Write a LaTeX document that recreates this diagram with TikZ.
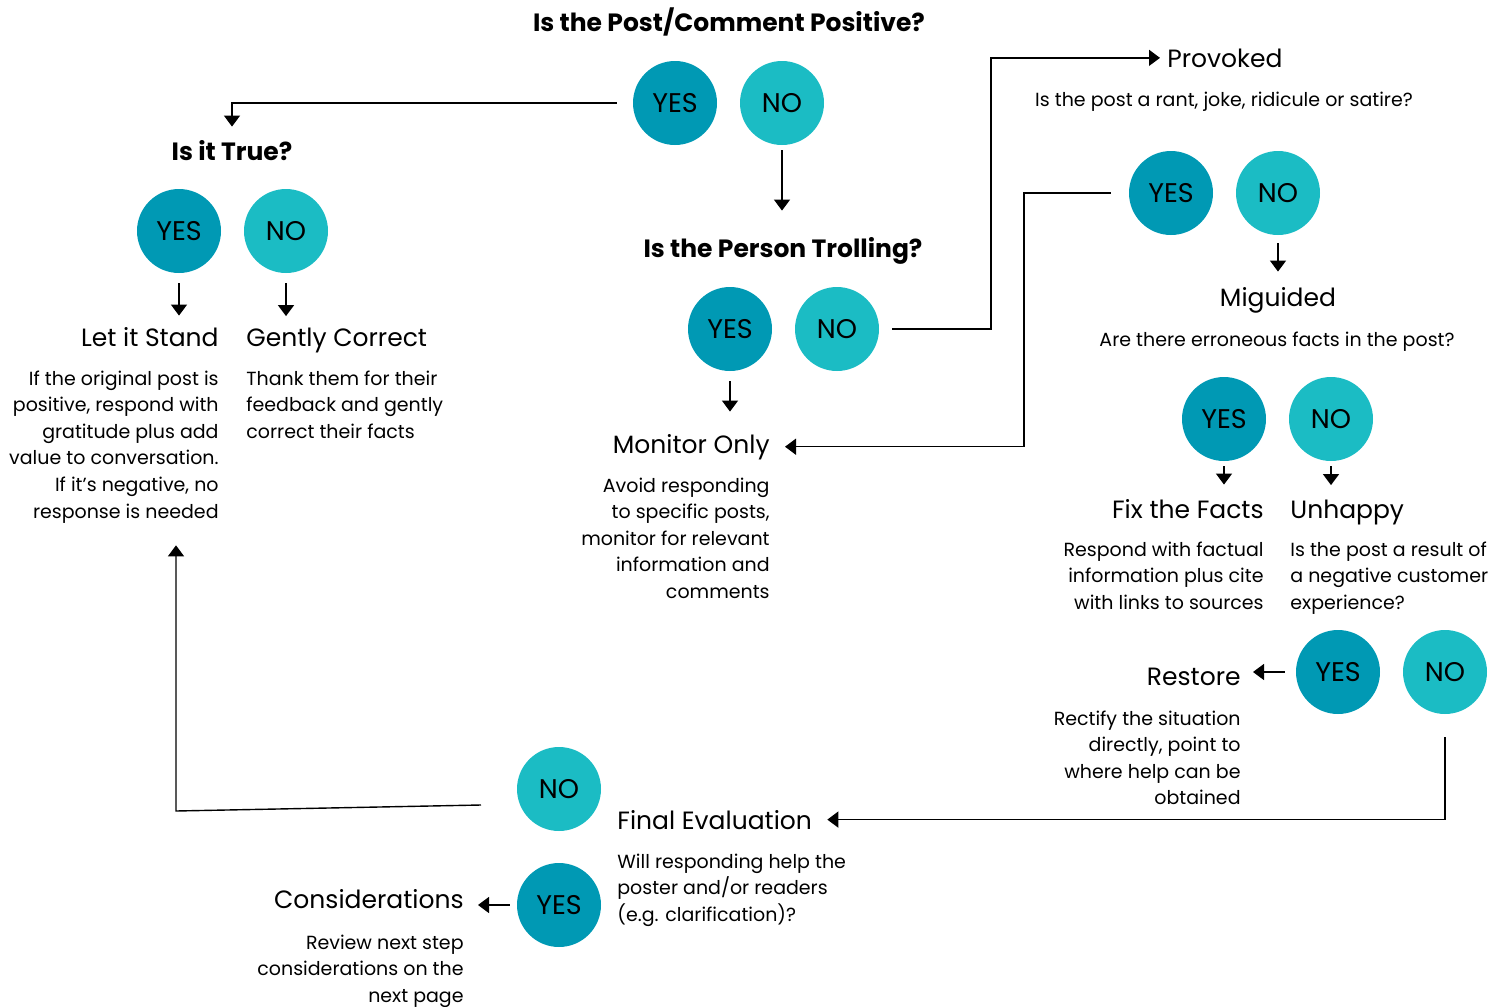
\documentclass[tikz,border=0pt]{standalone}
\usepackage{fontspec}
\setmainfont{Poppins}
\usetikzlibrary{positioning,calc,arrows.meta}
\definecolor{yesteal}{HTML}{0099B4}
\definecolor{noteal}{HTML}{1BBCC4}

\begin{document}
\begin{tikzpicture}[x=0.5pt,y=-0.5pt,
                yesnode/.style={circle, fill=yesteal, minimum size=42pt, inner sep=0pt, font=\fontsize{13.5}{15}\selectfont},
                nonode/.style={yesnode, fill=noteal},
                titlenode/.style={inner sep=0pt, font=\bfseries\fontsize{12.5}{15}\selectfont},
                headnode/.style={inner sep=0pt, font=\fontsize{12.5}{15}\selectfont},
                bodyleft/.style={inner sep=0pt, align=left, font=\fontsize{9.5}{13.3}\selectfont},
                bodyright/.style={bodyleft, align=right},
                arrow/.style={line width=0.7pt, -{Triangle[length=5.5pt,width=8pt]}}
                ]
                \useasboundingbox (0,0) rectangle (1512,1007);
                % first question
                \node[titlenode, anchor=base] (positive) at (729,31) {Is the Post/Comment Positive?};
                \node[yesnode] (yes1) at (675,103) {YES};
                \node[nonode] (no1) at (782,103) {NO};
                % is it true
                \node[titlenode, anchor=base] (true) at (232,160) {Is it True?};
                \node[yesnode] (yes2) at (179,231) {YES};
                \node[nonode] (no2) at (286,231) {NO};
                \node[headnode, anchor=base east] (stand) at (219,346) {Let it Stand};
                \node[headnode, anchor=base west] (correct) at (246,346) {Gently Correct};
                \node[bodyright, anchor=base east] (standtext) at (219,518) {If the original post is\\positive, respond with\\gratitude plus add\\value to conversation.\\If it’s negative, no\\response is needed};
                \node[bodyleft, anchor=base west] (correcttext) at (246,438.2) {Thank them for their\\feedback and gently\\correct their facts};
                % trolling
                \node[titlenode, anchor=base] (trolling) at (783,257) {Is the Person Trolling?};
                \node[yesnode] (yes3) at (730,329) {YES};
                \node[nonode] (no3) at (837,329) {NO};
                \node[headnode, anchor=base east] (monitor) at (770,453) {Monitor Only};
                \node[bodyright, anchor=base east] (monitortext) at (770,598.4) {Avoid responding\\to specific posts,\\monitor for relevant\\information and\\comments};
                % provoked
                \node[headnode, anchor=base west] (provoked) at (1167,67) {Provoked};
                \node[bodyleft, anchor=base] (provokedtext) at (1224,106) {Is the post a rant, joke, ridicule or satire?};
                \node[yesnode] (yes4) at (1171,193) {YES};
                \node[nonode] (no4) at (1278,193) {NO};
                \node[headnode, anchor=base] (miguided) at (1278,306) {Miguided};
                \node[bodyleft, anchor=base] (miguidedtext) at (1277,346) {Are there erroneous facts in the post?};
                \node[yesnode] (yes5) at (1224,419) {YES};
                \node[nonode] (no5) at (1331,419) {NO};
                \node[headnode, anchor=base east] (fix) at (1264,518) {Fix the Facts};
                \node[headnode, anchor=base west] (unhappy) at (1290,518) {Unhappy};
                \node[bodyright, anchor=base east] (fixtext) at (1264,609.2) {Respond with factual\\information plus cite\\with links to sources};
                \node[bodyleft, anchor=base west] (unhappytext) at (1290,609.2) {Is the post a result of\\a negative customer\\experience?};
                \node[yesnode] (yes6) at (1338,672) {YES};
                \node[nonode] (no6) at (1445,672) {NO};
                \node[headnode, anchor=base east] (restore) at (1241,685) {Restore};
                \node[bodyright, anchor=base east] (restoretext) at (1241,804.8) {Rectify the situation\\directly, point to\\where help can be\\obtained};
                % final evaluation
                \node[nonode] (no7) at (559,789) {NO};
                \node[yesnode] (yes7) at (559,905) {YES};
                \node[headnode, anchor=base west] (final) at (617,829) {Final Evaluation};
                \node[bodyleft, anchor=base west] (finaltext) at (617,921.2) {Will responding help the\\poster and/or readers\\(e.g. clarification)?};
                \node[headnode, anchor=base east] (consider) at (464,908) {Considerations};
                \node[bodyright, anchor=base east] (considertext) at (464,1002.2) {Review next step\\considerations on the\\next page};
                \coordinate (trollbend) at (991,0);
                \coordinate (yesbend) at (1024,0);
                \coordinate (nostart) at (481,805);
                \coordinate (nobend) at (176,811);
                % connectors
                \draw[arrow, shorten <=8pt, shorten >=6.5pt] (yes1.west) -| (true.north);
                \draw[arrow, shorten <=2.5pt, shorten >=13pt] (no1.south) -- (no1.south |- trolling.north);
                \draw[arrow, shorten <=5pt, shorten >=5.5pt] (yes2.south) -- (yes2.south |- stand.north);
                \draw[arrow, shorten <=5pt, shorten >=5.5pt] (no2.south) -- (no2.south |- correct.north);
                \draw[arrow, shorten <=5pt, shorten >=11pt] (yes3.south) -- (yes3.south |- monitor.north);
                \draw[arrow, shorten <=6.5pt, shorten >=3.5pt] (no3.east) -- (no3.east -| trollbend) |- (provoked.west);
                \draw[arrow, shorten <=9pt, shorten >=7.5pt] (yes4.west) -- (yes4.west -| yesbend) |- (monitor.east);
                \draw[arrow, shorten <=4pt, shorten >=7.5pt] (no4.south) -- (no4.south |- miguided.north);
                \draw[arrow, shorten <=2.5pt, shorten >=7pt] (yes5.south) -- (yes5.south |- fix.north);
                \draw[arrow, shorten <=2.5pt, shorten >=7pt] (no5.south) -- (no5.south |- unhappy.north);
                \draw[arrow, shorten <=5.5pt, shorten >=6pt] (yes6.west) -- (yes6.west -| restore.east);
                \draw[arrow, shorten <=11.5pt, shorten >=7.5pt] (no6.south) |- (final.east);
                \draw[arrow, shorten >=11pt] (nostart) -- (nobend) -- (nobend |- standtext.south);
                \draw[arrow, shorten <=3.5pt, shorten >=7pt] (yes7.west) -- (yes7.west -| consider.east);
            \end{tikzpicture}
\end{document}
